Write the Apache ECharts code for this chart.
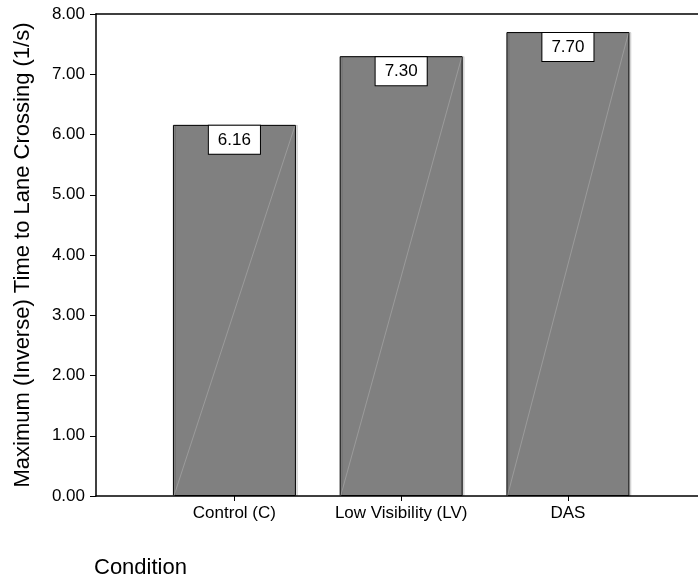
<!DOCTYPE html>
<html>
<head>
<meta charset="utf-8">
<script src="https://cdn.jsdelivr.net/npm/echarts@6/dist/echarts.min.js"></script>
<style>
  html, body { margin: 0; padding: 0; background: #fff; }
  #chart { width: 698px; height: 582px; }
</style>
</head>
<body>
<div id="chart"></div>
<script>
// Conditions and their maximum inverse time-to-lane-crossing values (1/s)
const categories = ['Control (C)', 'Low Visibility (LV)', 'DAS'];
const values = [6.16, 7.30, 7.70];
const yTicks = [0, 1, 2, 3, 4, 5, 6, 7, 8];

const FONT = '"Liberation Sans", Arial, Helvetica, sans-serif';
const BAR_W = 123;
const positions = categories.map((_, i) => i);

const chart = echarts.init(document.getElementById('chart'), null, { renderer: 'canvas' });

chart.setOption({
  animation: false,
  backgroundColor: '#ffffff',
  title: {
    text: 'Condition',
    left: 94,
    top: 557,
    padding: 0,
    textStyle: { fontFamily: FONT, fontSize: 22, fontWeight: 'normal', color: '#000' }
  },
  grid: { left: 96, right: 0, top: 14, bottom: 86 },
  xAxis: [
    {
      type: 'value',
      position: 'bottom',
      min: -0.83,
      max: 2.78,
      splitLine: { show: false },
      axisLine: { show: true, onZero: false, lineStyle: { color: '#000', width: 1.5 } },
      axisTick: { show: true, customValues: positions, length: 5, lineStyle: { color: '#000', width: 1 } },
      axisLabel: {
        show: true,
        customValues: positions,
        formatter: v => categories[Math.round(v)] || '',
        margin: 9,
        fontFamily: FONT,
        fontSize: 17,
        color: '#000'
      }
    },
    {
      type: 'value',
      position: 'top',
      min: -0.83,
      max: 2.78,
      splitLine: { show: false },
      axisLine: { show: true, onZero: false, lineStyle: { color: '#000', width: 1.5 } },
      axisTick: { show: false },
      axisLabel: { show: false }
    }
  ],
  yAxis: {
    type: 'value',
    min: yTicks[0],
    max: yTicks[yTicks.length - 1],
    interval: 1,
    name: 'Maximum (Inverse) Time to Lane Crossing (1/s)',
    nameLocation: 'middle',
    nameGap: 62,
    nameTextStyle: { fontFamily: FONT, fontSize: 22, color: '#000' },
    splitLine: { show: false },
    axisLine: { show: true, onZero: false, lineStyle: { color: '#000', width: 1.5 } },
    axisTick: { show: true, inside: false, length: 6, lineStyle: { color: '#000', width: 1 } },
    axisLabel: {
      formatter: v => v.toFixed(2),
      margin: 11,
      fontFamily: FONT,
      fontSize: 17,
      color: '#000'
    }
  },
  series: [
    {
      type: 'bar',
      xAxisIndex: 0,
      barWidth: BAR_W,
      data: positions.map(i => [i, values[i]]),
      itemStyle: {
        color: '#808080',
        borderColor: '#000',
        borderWidth: 1,
        shadowColor: 'rgba(0,0,0,0.12)',
        shadowOffsetX: 2,
        shadowOffsetY: 0,
        shadowBlur: 0
      },
      label: {
        show: true,
        position: 'insideTop',
        distance: 1,
        formatter: p => p.value[1].toFixed(2),
        backgroundColor: '#fff',
        borderColor: '#000',
        borderWidth: 1,
        padding: [5, 9, 5, 9],
        lineHeight: 18,
        fontFamily: FONT,
        fontSize: 17,
        color: '#000'
      },
      z: 2
    },
    {
      // faint hairline across each bar, bottom-left to top-right
      type: 'custom',
      xAxisIndex: 0,
      data: positions.map(i => [i, values[i]]),
      renderItem: (params, api) => {
        const base = api.coord([api.value(0), 0]);
        const top = api.coord([api.value(0), api.value(1)]);
        return {
          type: 'line',
          shape: { x1: base[0] - BAR_W / 2 + 1, y1: base[1], x2: base[0] + BAR_W / 2 - 1, y2: top[1] + 1 },
          style: { stroke: 'rgba(255,255,255,0.3)', lineWidth: 0.7 },
          silent: true
        };
      },
      z: 3
    }
  ]
});
</script>
</body>
</html>
